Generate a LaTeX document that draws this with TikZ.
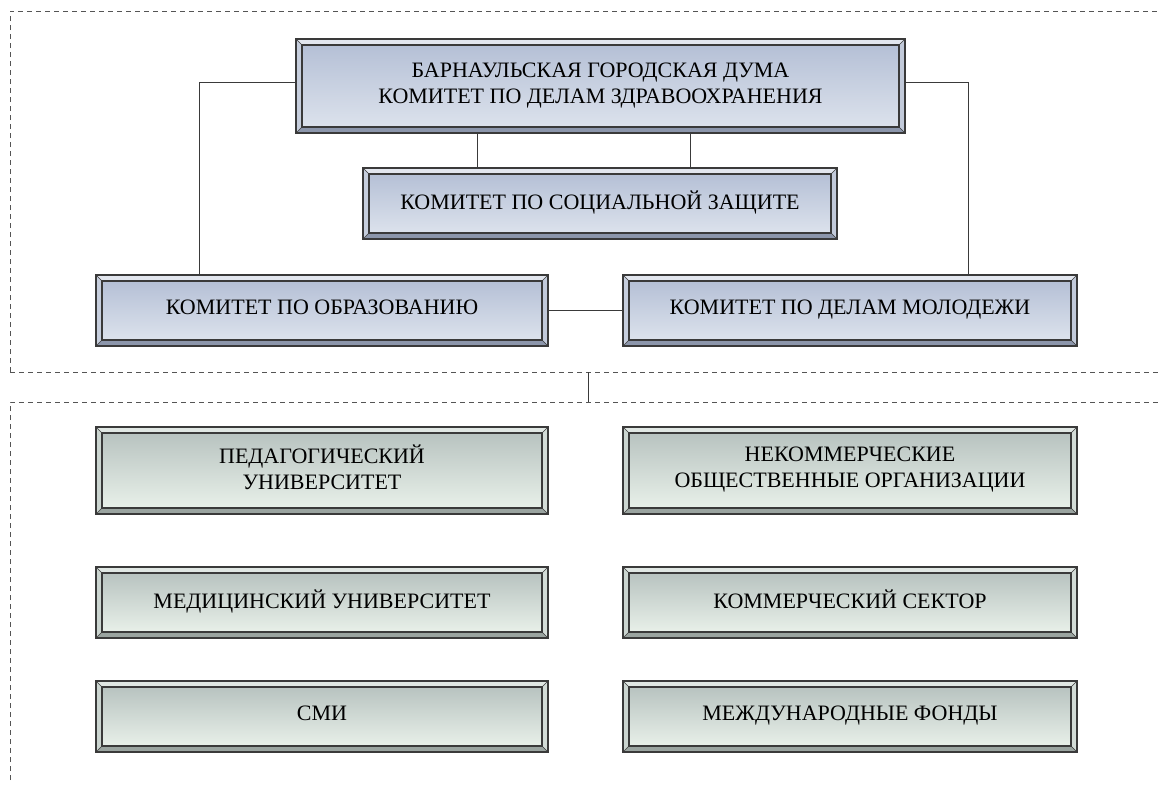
\documentclass[tikz,border=0pt]{standalone}
\usepackage{fontspec}
\setmainfont{Liberation Serif}
\usetikzlibrary{calc}

\definecolor{ramka}{HTML}{3A3A3A}
\definecolor{punktir}{HTML}{555555}
% sinie plashki (komitety)
\definecolor{sin-verh}{HTML}{B5C0D6}
\definecolor{sin-niz}{HTML}{DCE2EC}
\definecolor{sin-t}{HTML}{E2E6EE}
\definecolor{sin-l}{HTML}{C6CEDD}
\definecolor{sin-r}{HTML}{C2CADA}
\definecolor{sin-b}{HTML}{8C96AB}
% zelenye plashki (partnery)
\definecolor{zel-verh}{HTML}{B8C3C0}
\definecolor{zel-niz}{HTML}{E8F0E9}
\definecolor{zel-t}{HTML}{E0E7E3}
\definecolor{zel-l}{HTML}{CBD5D0}
\definecolor{zel-r}{HTML}{D3DCD7}
\definecolor{zel-b}{HTML}{9AA4A0}

\newcommand{\podporka}{\rule[-6pt]{0pt}{20pt}}

\tikzset{
planka/.style={rectangle,draw=ramka,line width=1.3pt,inner sep=0pt,align=center,
  font=\fontsize{22}{26}\selectfont,
  execute at begin node=\podporka, execute at end node=\podporka,
  path picture={
    \coordinate (pnw) at (path picture bounding box.north west);
    \coordinate (pne) at (path picture bounding box.north east);
    \coordinate (pse) at (path picture bounding box.south east);
    \coordinate (psw) at (path picture bounding box.south west);
    \coordinate (inw) at ([shift={(6,6)}]pnw);
    \coordinate (ine) at ([shift={(-6,6)}]pne);
    \coordinate (ise) at ([shift={(-6,-6)}]pse);
    \coordinate (isw) at ([shift={(6,-6)}]psw);
    \fill[\pref-t] (pnw)--(pne)--(ine)--(inw)--cycle;
    \fill[\pref-r] (pne)--(pse)--(ise)--(ine)--cycle;
    \fill[\pref-b] (pse)--(psw)--(isw)--(ise)--cycle;
    \fill[\pref-l] (psw)--(pnw)--(inw)--(isw)--cycle;
    \shade[top color=\pref-verh,bottom color=\pref-niz] (inw) rectangle (ise);
    \draw[ramka,line width=1.1pt] (inw) rectangle (ise);
    \draw[ramka,line width=.6pt] (pnw)--(inw) (pne)--(ine) (pse)--(ise) (psw)--(isw);
  }},
komitet/.style={planka,/utils/exec=\def\pref{sin}},
partner/.style={planka,/utils/exec=\def\pref{zel}},
}

\begin{document}
\begin{tikzpicture}[x=1pt,y=-1pt]
\useasboundingbox (0,0) rectangle (1158,785);

% punktirnye ramki
\begin{scope}[punktir,line width=1pt,dash pattern=on 5pt off 4pt]
\draw (10,372)--(10,11)--(1158,11);
\draw (10,372)--(1158,372);
\draw (10,780)--(10,402)--(1158,402);
\end{scope}

\node[komitet,minimum width=609,minimum height=94](duma) at (600.5,86){%
БАРНАУЛЬСКАЯ ГОРОДСКАЯ ДУМА\\КОМИТЕТ ПО ДЕЛАМ ЗДРАВООХРАНЕНИЯ};
\node[komitet,minimum width=474,minimum height=71](soczashita) at (600,203.5){КОМИТЕТ ПО СОЦИАЛЬНОЙ ЗАЩИТЕ};
\node[komitet,minimum width=452,minimum height=71](obrazovanie) at (322,310.5){КОМИТЕТ ПО ОБРАЗОВАНИЮ};
\node[komitet,minimum width=454,minimum height=71](molodezh) at (850,310.5){КОМИТЕТ ПО ДЕЛАМ МОЛОДЕЖИ};

\node[partner,minimum width=452,minimum height=87](pedun) at (322,470.5){ПЕДАГОГИЧЕСКИЙ\\УНИВЕРСИТЕТ};
\node[partner,minimum width=454,minimum height=87](nko) at (850,470.5){НЕКОММЕРЧЕСКИЕ\\ОБЩЕСТВЕННЫЕ ОРГАНИЗАЦИИ};
\node[partner,minimum width=452,minimum height=71](medun) at (322,602.5){МЕДИЦИНСКИЙ УНИВЕРСИТЕТ};
\node[partner,minimum width=454,minimum height=71](kommerc) at (850,602.5){КОММЕРЧЕСКИЙ СЕКТОР};
\node[partner,minimum width=452,minimum height=71](smi) at (322,716.5){СМИ};
\node[partner,minimum width=454,minimum height=71](fondy) at (850,716.5){МЕЖДУНАРОДНЫЕ ФОНДЫ};

\coordinate (svyaz-verh) at (588,372);
\coordinate (svyaz-niz) at (588,402);

\begin{scope}[ramka,line width=1pt]
\draw ([yshift=4]duma.west) -| ([xshift=-123]obrazovanie.north);
\draw ([yshift=4]duma.east) -| ([xshift=118]molodezh.north);
\draw ([xshift=-123.5]duma.south) -- ([xshift=-123]soczashita.north);
\draw ([xshift=89.5]duma.south) -- ([xshift=90]soczashita.north);
\draw (obrazovanie) -- (molodezh);
\draw (svyaz-verh) -- (svyaz-niz);
\end{scope}

\end{tikzpicture}
\end{document}
